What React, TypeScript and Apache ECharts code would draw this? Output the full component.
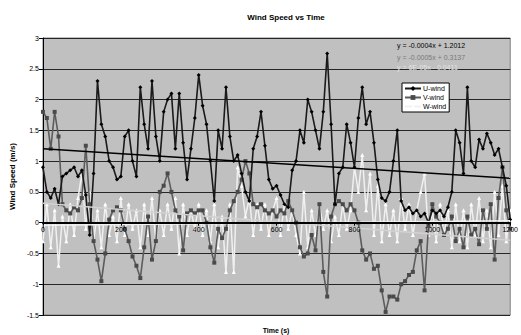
import React, { useEffect, useRef } from "react";
import * as echarts from "echarts";

// Sampled every 10 s, 0..1200 s
const uWind = [
  0.9, 0.5, 0.4, 0.55, 0.3, 0.75, 0.8, 0.85, 0.9, 0.75,
  0.85, 0.45, -0.2, 0.8, 2.3, 1.6, 1.4, 1.0, 0.9, 0.7,
  0.75, 1.4, 1.5, 1.0, 0.75, 2.2, 1.6, 1.2, 2.3, 1.4,
  1.0, 1.8, 2.0, 2.1, 1.2, 2.1, 1.3, 0.7, 1.2, 1.7,
  2.4, 1.9, 1.6, 1.0, 0.35, 1.5, 1.2, 2.2, 1.4, 1.0,
  1.1, 0.8, 0.5, 0.35, 1.2, 1.4, 1.8, 1.25, 0.7, 0.55,
  0.6, 0.45, 0.3, 0.25, 0.85, 1.0, 1.5, 1.3, 2.0, 1.8,
  1.5, 1.2, 1.8, 2.75, 1.6, 0.3, 0.8, 0.9, 1.6, 1.3,
  0.9, 1.7, 2.2, 1.6, 1.8, 1.3, 0.7, 0.4, 0.35, 0.5,
  1.0, 1.5, 0.35, 0.2, 0.25, 0.15, 0.2, 0.1, 0.15, 0.0,
  0.2, 0.15, 0.2, 0.1, 0.25, 0.5, 1.5, 1.3, 0.8, 2.2,
  1.0, 0.9, 1.35, 1.2, 1.45, 1.3, 1.1, 1.2, 0.9, 0.6,
  0.05,
];

const vWind = [
  1.8, 1.7, 1.2, 1.8, 1.4, 0.3, 0.2, 0.15, 0.25, 0.2,
  0.4, 1.25, 0.3, -0.3, -0.6, -0.95, -0.5, 0.05, 0.2, 0.25,
  0.2, -0.1, -0.3, -0.55, -0.7, -0.9, -0.4, 0.1, -0.6, -0.3,
  0.5, 0.6, 0.8, 0.5, 0.2, 0.1, -0.45, 0.15, 0.2, 0.15,
  0.2, 0.2, 0.0, -0.4, -0.65, -0.1, -0.25, -0.1, 0.2, 0.35,
  0.5, 0.7, 1.0, 0.8, 0.3, 0.25, 0.3, 0.2, 0.15, 0.2,
  0.1, 0.2, 0.15, 0.35, 0.2, 0.0, -0.4, -0.55, -0.5, -0.2,
  -0.45, 0.3, -0.8, -1.2, 0.1, 0.3, 0.35, 0.3, 0.2, 0.3,
  0.2, 0.0, -0.45, -0.6, -0.5, -0.75, -0.7, -1.1, -1.45, -1.2,
  -1.2, -1.25, -1.0, -0.95, -0.85, -0.8, -0.45, -0.3, -1.1, -0.05,
  0.3, 0.1, 0.0, -0.2, -0.1, 0.1, -0.3, -0.1, -0.4, 0.1,
  -0.2, -0.1, -0.35, 0.2, -0.1, 0.3, -0.6, 0.4, 0.9, 0.2,
  -0.1,
];

const wWind = [
  -0.3, 0.3, -0.4, 0.2, -0.7, 0.1, -0.3, 0.3, -0.2, 0.4,
  0.8, -0.1, 0.5, -0.3, 0.2, -0.4, 0.3, -0.2, 0.1, -0.3,
  0.4, -0.2, 0.3, -0.1, 0.2, -0.4, 0.3, -0.2, 0.4, -0.3,
  0.2, -0.2, 0.3, -0.1, 0.4, -0.5, 0.3, -0.2, 0.2, -0.1,
  0.3, -0.2, 0.2, -0.3, 0.3, -0.4, 0.1, -0.8, 0.3, -0.8,
  0.9, 0.6, 0.1, 0.4, -0.2, 0.3, -0.1, 0.3, -0.2, 0.2,
  0.4, -0.2, 0.3, -0.1, 0.2, -0.2, -0.5, 0.5, -0.4, 0.2,
  -0.2, 0.3, -0.1, 0.2, -0.3, 0.1, -0.2, 0.3, -0.1, 0.2,
  0.9, 0.5, 1.1, 0.2, 0.8, -0.2, 0.6, -0.3, 0.3, -0.2,
  0.2, -0.3, 0.4, -0.1, 0.3, -0.2, 0.2, 0.5, 0.8, -0.2,
  0.2, -0.3, 0.3, -0.2, 0.2, -0.4, 0.3, -0.3, 0.2, -0.4,
  0.3, -0.2, 0.4, -0.3, 0.2, -0.4, 0.5, -0.2, 0.6, -0.3,
  0.2,
];

const sampleStep = 10;
const xRange = [0, 1200];
const xTicks = 200;
const yRange = [-1.5, 3];
const yTicks = 0.5;

// Linear trendlines (from the chart's equations)
const trendNames = ["U-trend", "V-trend", "W-trend"];
const trendSlopes = [-0.0004, -0.0005, 0.00006];
const trendIntercepts = [1.2012, 0.3137, -0.0411];
const trendLabels = [
  "y = -0.0004x + 1.2012",
  "y = -0.0005x + 0.3137",
  "y = 6E-05x - 0.0411",
];

const FONT = "'Liberation Sans', Arial, sans-serif";

// layout
const GRID_TOP = 38;
const GRID_BOTTOM = 20;
const CHART_H = 335;

function toPairs(vals: number[]) {
  return vals.map((v, i) => [i * sampleStep, v]);
}

function trendData(k: number) {
  return xRange.map((x) => [x, trendSlopes[k] * x + trendIntercepts[k]]);
}

export default function App() {
  const ref = useRef<HTMLDivElement>(null);
  useEffect(() => {
    if (!ref.current) return;
    const chart = echarts.init(ref.current, undefined, { renderer: "svg" });
    const trendColors = ["#000000", "#d2d2d2", "#f2f2f2"];
    const labelColors = ["#000000", "#7a7a7a", "#e4e4e4"];
    const plotH = CHART_H - GRID_TOP - GRID_BOTTOM;
    const zeroOffset = (plotH * (0 - yRange[0])) / (yRange[1] - yRange[0]);
    chart.setOption({
      animation: false,
      backgroundColor: "#ffffff",
      textStyle: { fontFamily: FONT },
      grid: {
        left: 37,
        right: 8,
        top: GRID_TOP,
        bottom: GRID_BOTTOM,
        show: true,
        backgroundColor: "#c0c0c0",
        borderColor: "#808080",
        borderWidth: 1,
      },
      xAxis: {
        type: "value",
        position: "bottom",
        offset: -zeroOffset,
        z: 10,
        min: xRange[0],
        max: xRange[1],
        interval: xTicks,
        axisLine: { onZero: false, lineStyle: { color: "#000", width: 2 } },
        axisTick: { show: true, length: 3, lineStyle: { color: "#000" } },
        axisLabel: {
          fontSize: 7,
          color: "#000",
          margin: 3,
          fontFamily: FONT,
          formatter: (v: number) => String(v),
        },
        splitLine: { show: false },
      },
      yAxis: {
        type: "value",
        min: yRange[0],
        max: yRange[1],
        interval: yTicks,
        name: "Wind Speed (m/s)",
        nameLocation: "middle",
        nameGap: 20,
        nameTextStyle: { fontSize: 8, fontWeight: "bold", color: "#000", fontFamily: FONT },
        axisLine: { show: true, onZero: false, lineStyle: { color: "#000", width: 1 } },
        axisTick: { show: true, length: 4, lineStyle: { color: "#000" } },
        axisLabel: { fontSize: 7, color: "#000", margin: 4, fontFamily: FONT },
        splitLine: { show: true, lineStyle: { color: "#262626", width: 1 } },
      },
      legend: {
        data: ["U-wind", "V-wind", "W-wind"],
        orient: "vertical",
        left: 402,
        top: 83,
        backgroundColor: "#ffffff",
        borderColor: "#000000",
        borderWidth: 1,
        padding: [2, 3, 2, 2],
        itemGap: 2,
        itemWidth: 16,
        itemHeight: 6,
        textStyle: { fontSize: 7, color: "#000", fontFamily: FONT, padding: [0, 0, 0, -3] },
      },
      graphic: [
        {
          type: "text",
          x: 286,
          y: 17,
          style: {
            text: "Wind Speed vs Time",
            font: `bold 8px ${FONT}`,
            fill: "#000",
            textAlign: "center",
            textVerticalAlign: "middle",
          },
        },
        {
          type: "text",
          x: 276,
          y: 330,
          style: {
            text: "Time (s)",
            font: `bold 7px ${FONT}`,
            fill: "#000",
            textAlign: "center",
            textVerticalAlign: "middle",
          },
        },
        ...trendLabels.map((t, k) => ({
          type: "text",
          x: 397,
          y: [45, 57, 67][k],
          z: 100,
          style: {
            text: t,
            font: `7px ${FONT}`,
            fill: labelColors[k],
            textAlign: "left",
            textVerticalAlign: "middle",
          },
        })),
      ],
      series: [
        {
          name: "W-wind",
          type: "line",
          data: toPairs(wWind),
          symbol: "triangle",
          symbolSize: 4,
          lineStyle: { color: "#f0f0f0", width: 1.5 },
          itemStyle: { color: "#ffffff" },
          z: 2,
        },
        {
          name: "V-wind",
          type: "line",
          data: toPairs(vWind),
          symbol: "rect",
          symbolSize: 4,
          showSymbol: true,
          lineStyle: { color: "#5c5c5c", width: 1.6 },
          itemStyle: { color: "#4a4a4a" },
          z: 3,
        },
        {
          name: "U-wind",
          type: "line",
          data: toPairs(uWind),
          symbol: "diamond",
          symbolSize: 4,
          lineStyle: { color: "#1a1a1a", width: 1.6 },
          itemStyle: { color: "#000000" },
          z: 4,
        },
        ...trendNames.map((n, k) => ({
          name: n,
          type: "line",
          data: trendData(k),
          symbol: "none",
          lineStyle: { color: trendColors[k], width: 1.5 },
          z: 5,
        })),
      ],
    });
    return () => chart.dispose();
  }, []);
  return <div ref={ref} style={{ width: 521, height: 335, position: "absolute", left: 0, top: 0 }} />;
}
